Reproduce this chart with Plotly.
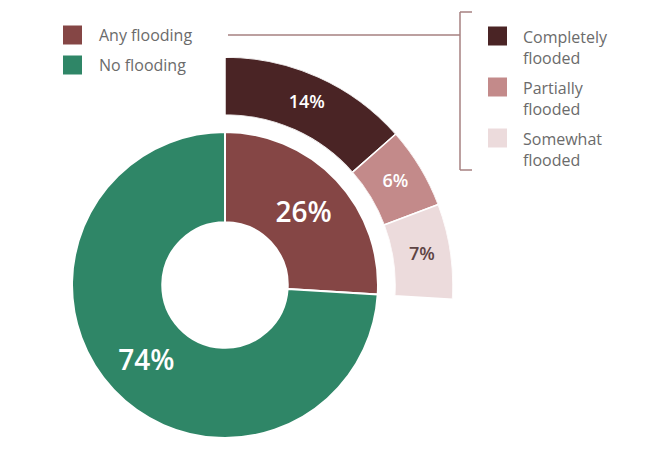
import plotly.graph_objects as go

# ---- data ----
categories = ["Any flooding", "No flooding"]
values = [26, 74]
sub_categories = ["Completely flooded", "Partially flooded", "Somewhat flooded"]
sub_values = [14, 6, 7]

# ---- styles ----
main_colors = ["#854645", "#2f8667"]
sub_colors = ["#4a2425", "#c38a8a", "#ecdbdc"]
sub_text_colors = ["white", "white", "#5e4444"]
legend_font_color = "#6b6b6b"
bracket_color = "#a68080"
FONT = "'Open Sans', 'Noto Sans', sans-serif"

# page body has an 8px margin; figure fills the rest of the 650x474 window
OFF = 8
W, H = 650 - 2 * OFF, 474 - 2 * OFF


def px(x):
    return (x - OFF) / W


def py(y):
    return 1 - (y - OFF) / H


fig = go.Figure()

# inner donut
fig.add_trace(go.Pie(
    labels=categories,
    values=values,
    sort=False,
    direction="clockwise",
    rotation=0,
    hole=0.41,
    marker=dict(colors=main_colors, line=dict(color="white", width=2)),
    texttemplate="%{value}%",
    textposition="inside",
    insidetextorientation="horizontal",
    textfont=dict(color="white", size=28, family=FONT, weight=600),
    domain=dict(x=[px(72), px(378)], y=[py(438), py(132)]),
    showlegend=False,
    hoverinfo="label+percent",
))

# outer ring: breakdown of the "Any flooding" share
span = values[0] / sum(values) * 360
total_sub = sum(sub_values)
widths = [v / total_sub * span for v in sub_values]
centers = []
acc = 0
for w in widths:
    centers.append(acc + w / 2)
    acc += w

for name, v, th, w, c in zip(sub_categories, sub_values, centers, widths, sub_colors):
    fig.add_trace(go.Barpolar(
        r=[1], theta=[th], width=[w], name=name,
        marker=dict(color=c, line=dict(color="white", width=1.5)),
        subplot="polar", showlegend=False,
    ))

fig.add_trace(go.Scatterpolar(
    r=[0.5] * len(sub_values), theta=centers, mode="text",
    text=[f"{v}%" for v in sub_values],
    textfont=dict(color=sub_text_colors, size=18, family=FONT, weight=600),
    subplot="polar", showlegend=False, hoverinfo="skip",
))

fig.update_layout(
    width=W, height=H,
    margin=dict(l=0, r=0, t=0, b=0, pad=0),
    paper_bgcolor="white",
    plot_bgcolor="white",
    font=dict(family=FONT),
    polar=dict(
        domain=dict(x=[px(225), px(453)], y=[py(324.6), py(57)]),
        sector=[-10, 90],
        hole=170 / 228,
        bgcolor="rgba(0,0,0,0)",
        bargap=0,
        radialaxis=dict(visible=False, range=[0, 1]),
        angularaxis=dict(visible=False, rotation=90, direction="clockwise"),
    ),
)

shapes = []
annotations = []

# left legend
left_rows = [35, 65]
for name, c, yc in zip(categories, main_colors, left_rows):
    shapes.append(dict(type="rect", xref="paper", yref="paper",
                       x0=px(63), x1=px(82), y0=py(yc - 9.5), y1=py(yc + 9.5),
                       fillcolor=c, line=dict(width=0)))
    annotations.append(dict(text=name, xref="paper", yref="paper",
                            x=px(97), y=py(yc), xanchor="left", yanchor="middle",
                            showarrow=False,
                            font=dict(size=16, color=legend_font_color, family=FONT)))

# connector + bracket
line_style = dict(color=bracket_color, width=1.5)
shapes.append(dict(type="line", xref="paper", yref="paper",
                   x0=px(228), x1=px(460), y0=py(35), y1=py(35), line=line_style))
shapes.append(dict(type="line", xref="paper", yref="paper",
                   x0=px(460), x1=px(460), y0=py(12), y1=py(170), line=line_style))
shapes.append(dict(type="line", xref="paper", yref="paper",
                   x0=px(460), x1=px(472), y0=py(12), y1=py(12), line=line_style))
shapes.append(dict(type="line", xref="paper", yref="paper",
                   x0=px(460), x1=px(472), y0=py(170), y1=py(170), line=line_style))

# right legend
right_rows = [36, 87, 138]
for name, c, yc in zip(sub_categories, sub_colors, right_rows):
    shapes.append(dict(type="rect", xref="paper", yref="paper",
                       x0=px(488), x1=px(507), y0=py(yc - 9.5), y1=py(yc + 9.5),
                       fillcolor=c, line=dict(width=0)))
    first, rest = name.split(" ", 1)
    annotations.append(dict(text=f"{first}<br>{rest}", xref="paper", yref="paper",
                            x=px(521), y=py(yc - 12), xanchor="left", yanchor="top",
                            align="left", showarrow=False,
                            font=dict(size=16, color=legend_font_color, family=FONT)))

fig.update_layout(shapes=shapes, annotations=annotations)

fig.write_html("out.html")
